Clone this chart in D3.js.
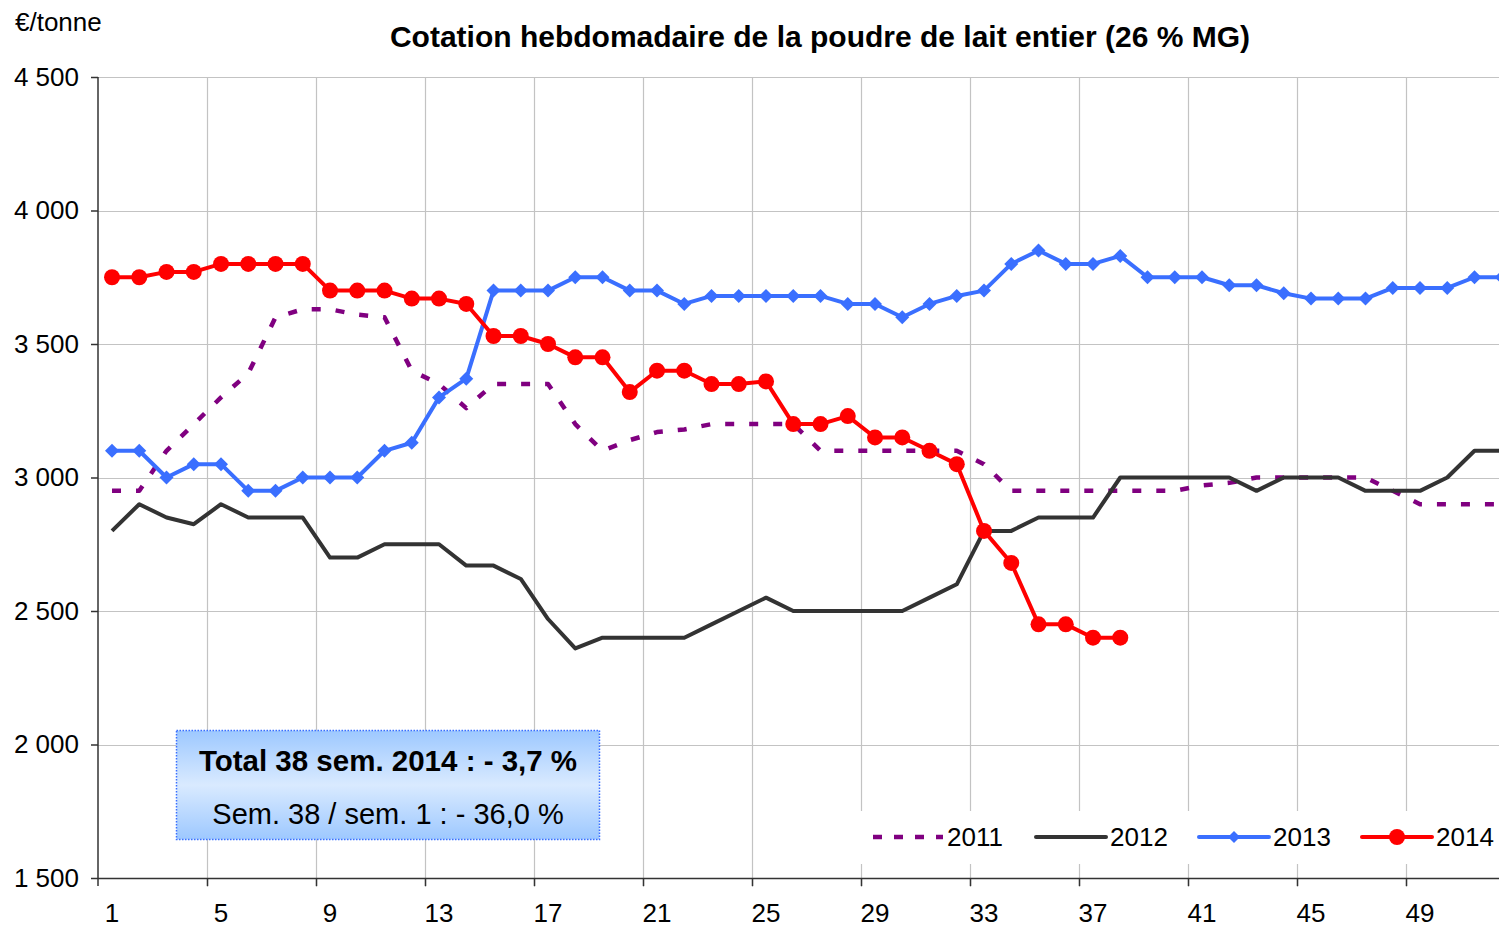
<!DOCTYPE html>
<html>
<head>
<meta charset="utf-8">
<script src="https://cdn.jsdelivr.net/npm/d3@7"></script>
<style>
  body { margin: 0; background: #fff; }
  svg { display: block; font-family: "Liberation Sans", Arial, sans-serif; }
</style>
</head>
<body>
<div id="chart"></div>
<script>
// Weekly whole milk powder quotation, €/tonne
const weeks = d3.range(1, 53)
const tickWeeks = [1, 5, 9, 13, 17, 21, 25, 29, 33, 37, 41, 45, 49]
const yTicks = [1500, 2000, 2500, 3000, 3500, 4000, 4500]

const v2011 = [2950, 2950, 3100, 3200, 3300, 3390, 3600, 3630, 3630, 3610, 3600, 3400, 3350, 3260, 3350, 3350,
  3350, 3200, 3100, 3140, 3170, 3180, 3200, 3200, 3200, 3200, 3100, 3100, 3100, 3100, 3100, 3100, 3050,
  2950, 2950, 2950, 2950, 2950, 2950, 2950, 2970, 2980, 3000, 3000, 3000, 3000, 3000, 2950, 2900, 2900, 2900, 2900]
const v2012 = [2800, 2900, 2850, 2825, 2900, 2850, 2850, 2850, 2700, 2700, 2750, 2750, 2750, 2670, 2670, 2620,
  2470, 2360, 2400, 2400, 2400, 2400, 2450, 2500, 2550, 2500, 2500, 2500, 2500, 2500, 2550, 2600, 2800,
  2800, 2850, 2850, 2850, 3000, 3000, 3000, 3000, 3000, 2950, 3000, 3000, 3000, 2950, 2950, 2950, 3000, 3100, 3100]
const v2013 = [3100, 3100, 3000, 3050, 3050, 2950, 2950, 3000, 3000, 3000, 3100, 3130, 3300, 3370, 3700, 3700,
  3700, 3750, 3750, 3700, 3700, 3650, 3680, 3680, 3680, 3680, 3680, 3650, 3650, 3600, 3650, 3680, 3700,
  3800, 3850, 3800, 3800, 3830, 3750, 3750, 3750, 3720, 3720, 3690, 3670, 3670, 3670, 3710, 3710, 3710, 3750, 3750]
const v2014 = [3750, 3750, 3770, 3770, 3800, 3800, 3800, 3800, 3700, 3700, 3700, 3670, 3670, 3650, 3530, 3530,
  3500, 3450, 3450, 3320, 3400, 3400, 3350, 3350, 3360, 3200, 3200, 3230, 3150, 3150, 3100, 3050, 2800,
  2680, 2450, 2450, 2400, 2400]

const seriesKeys = ["2011", "2012", "2013", "2014"]
const seriesValues = [v2011, v2012, v2013, v2014]

const style = {
  "2011": { color: "#800080", width: 4.5, dash: "9,15", legendDash: "9,12", marker: null },
  "2012": { color: "#333333", width: 4, dash: null, marker: null },
  "2013": { color: "#3a6fff", width: 4, dash: null, marker: "diamond" },
  "2014": { color: "#ff0000", width: 4, dash: null, marker: "circle" },
}

const width = 1499
const height = 928
const margin = { top: 77, left: 98, bottom: 50 }
const bottomY = height - margin.bottom

const fmt = d => d3.format(",")(d).replace(",", " ")
const diamond = "M0,-7L7,0L0,7L-7,0Z"

const svg = d3.select("#chart").append("svg")
  .attr("width", width)
  .attr("height", height)

const x = d3.scaleLinear().domain([0.5, 52.5]).range([98.4, 98.4 + 52 * 27.25])
const y = d3.scaleLinear().domain([1500, 4500]).range([bottomY, margin.top])

// grid
const boundaries = d3.range(4.5, 53, 4)
svg.append("g")
  .selectAll("line")
  .data(boundaries)
  .join("line")
  .attr("x1", d => Math.round(x(d)) + 0.5)
  .attr("x2", d => Math.round(x(d)) + 0.5)
  .attr("y1", margin.top)
  .attr("y2", bottomY + 9)
  .attr("stroke", "#c3c3c3")
  .attr("stroke-width", 1.2)

svg.append("g")
  .selectAll("line")
  .data(yTicks.filter(d => d > 1500))
  .join("line")
  .attr("x1", margin.left)
  .attr("x2", width)
  .attr("y1", d => Math.round(y(d)) + 0.5)
  .attr("y2", d => Math.round(y(d)) + 0.5)
  .attr("stroke", "#c3c3c3")
  .attr("stroke-width", 1.2)

// y axis
const yAxis = svg.append("g")
  .attr("transform", `translate(${margin.left},0)`)
  .call(d3.axisLeft(y).tickValues(yTicks).tickFormat(fmt).tickSize(7).tickPadding(12))
yAxis.select(".domain").remove()
yAxis.append("line")
  .attr("y1", margin.top).attr("y2", bottomY + 8)
  .attr("stroke", "#333").attr("stroke-width", 1.5)
yAxis.selectAll(".tick line").attr("stroke", "#333").attr("stroke-width", 1.5)
yAxis.selectAll("text").style("font-size", "26px").attr("fill", "#000")

// x axis
svg.append("line")
  .attr("x1", margin.left).attr("x2", width)
  .attr("y1", bottomY + 0.5).attr("y2", bottomY + 0.5)
  .attr("stroke", "#333").attr("stroke-width", 1.5)

svg.append("g")
  .selectAll("line")
  .data(boundaries)
  .join("line")
  .attr("x1", d => Math.round(x(d)) + 0.5)
  .attr("x2", d => Math.round(x(d)) + 0.5)
  .attr("y1", bottomY)
  .attr("y2", bottomY + 8)
  .attr("stroke", "#333")
  .attr("stroke-width", 1.5)

svg.append("g")
  .selectAll("text")
  .data(tickWeeks)
  .join("text")
  .attr("x", d => x(d))
  .attr("y", 922)
  .attr("text-anchor", "middle")
  .style("font-size", "26px")
  .text(d => d)

// lines
const line = d3.line()
  .x((d, i) => x(weeks[i]))
  .y(d => y(d))

const plot = svg.append("g")
seriesKeys.forEach((key, k) => {
  const s = style[key]
  plot.append("path")
    .datum(seriesValues[k])
    .attr("d", line)
    .attr("fill", "none")
    .attr("stroke", s.color)
    .attr("stroke-width", s.width)
    .attr("stroke-linejoin", "round")
    .attr("stroke-dasharray", s.dash)
  if (s.marker === "circle") {
    plot.append("g").selectAll("circle")
      .data(seriesValues[k])
      .join("circle")
      .attr("cx", (d, i) => x(weeks[i]))
      .attr("cy", d => y(d))
      .attr("r", 8)
      .attr("fill", s.color)
  }
  if (s.marker === "diamond") {
    plot.append("g").selectAll("path")
      .data(seriesValues[k])
      .join("path")
      .attr("transform", (d, i) => `translate(${x(weeks[i])},${y(d)})`)
      .attr("d", diamond)
      .attr("fill", s.color)
  }
})

// legend
const legend = svg.append("g")
legend.append("rect")
  .attr("x", 858).attr("y", 811).attr("width", width - 858).attr("height", 53)
  .attr("fill", "#fff")

const legendX = [873, 1036, 1199, 1362]
seriesKeys.forEach((key, k) => {
  const s = style[key]
  const g = legend.append("g").attr("transform", `translate(${legendX[k]},837)`)
  g.append("line")
    .attr("x1", 0).attr("x2", 70)
    .attr("stroke", s.color)
    .attr("stroke-width", s.width)
    .attr("stroke-dasharray", s.legendDash || null)
    .attr("stroke-linecap", s.dash ? "butt" : "round")
  if (s.marker === "circle") {
    g.append("circle").attr("cx", 35).attr("r", 8).attr("fill", s.color)
  }
  if (s.marker === "diamond") {
    g.append("path").attr("transform", "translate(35,0)")
      .attr("d", "M0,-6L6,0L0,6L-6,0Z").attr("fill", s.color)
  }
  g.append("text")
    .attr("x", 74).attr("y", 9)
    .style("font-size", "26px")
    .text(key)
})

// annotation box
const defs = svg.append("defs")
const grad = defs.append("linearGradient")
  .attr("id", "boxGrad").attr("x1", 0).attr("x2", 0).attr("y1", 0).attr("y2", 1)
grad.append("stop").attr("offset", "0%").attr("stop-color", "#9dc8ff")
grad.append("stop").attr("offset", "50%").attr("stop-color", "#d9eaff")
grad.append("stop").attr("offset", "100%").attr("stop-color", "#9dc8ff")

svg.append("rect")
  .attr("x", 176.5).attr("y", 730.5).attr("width", 423).attr("height", 109)
  .attr("fill", "url(#boxGrad)")
  .attr("stroke", "#3a6fff")
  .attr("stroke-width", 1.5)
  .attr("stroke-dasharray", "1.5,1.5")

svg.append("text")
  .attr("x", 388).attr("y", 771)
  .attr("text-anchor", "middle")
  .style("font-size", "29.5px").style("font-weight", "bold")
  .text("Total 38 sem. 2014 : - 3,7 %")

svg.append("text")
  .attr("x", 388).attr("y", 824)
  .attr("text-anchor", "middle")
  .style("font-size", "29px")
  .text("Sem. 38 / sem. 1 : - 36,0 %")

// titles
svg.append("text")
  .attr("x", 820).attr("y", 47)
  .attr("text-anchor", "middle")
  .style("font-size", "30px").style("font-weight", "bold")
  .text("Cotation hebdomadaire de la poudre de lait entier (26 % MG)")

svg.append("text")
  .attr("x", 15).attr("y", 31)
  .style("font-size", "26px")
  .text("€/tonne")
</script>
</body>
</html>
